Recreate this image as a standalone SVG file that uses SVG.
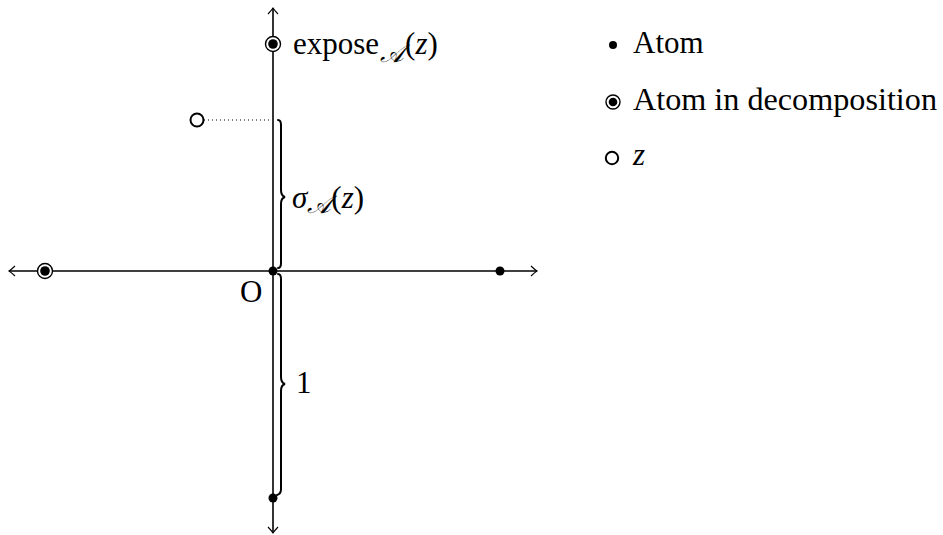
<svg xmlns="http://www.w3.org/2000/svg" width="943" height="535" viewBox="0 0 943 535">
<defs>
<marker id="to" markerUnits="userSpaceOnUse" markerWidth="14" markerHeight="14" viewBox="-8 -7 10 14" refX="0" refY="0" orient="auto">
<path d="M-6,-5 Q-2,-1.2 0,0 Q-2,1.2 -6,5" fill="none" stroke="#000" stroke-width="1.1"/>
</marker>
<style>
.ax{stroke:#000;stroke-width:1.1;fill:none}
.br{stroke:#000;stroke-width:2;fill:none;stroke-linecap:round}
.t{font-family:"Liberation Serif","DejaVu Serif",serif;font-size:31px;fill:#000}
.i{font-style:italic}
.sub{font-size:25px}
.atom{fill:#000}
.ring{fill:#fff;stroke:#000;stroke-width:1.4}
.open{fill:#fff;stroke:#000;stroke-width:2}
</style>
</defs>
<g id="connectors">
<line class="ax" x1="273" y1="533" x2="273" y2="8" marker-end="url(#to)"/>
<line class="ax" x1="273" y1="8" x2="273" y2="533" marker-end="url(#to)"/>
<line class="ax" x1="9" y1="271" x2="537" y2="271" marker-end="url(#to)"/>
<line class="ax" x1="537" y1="271" x2="9" y2="271" marker-end="url(#to)"/>
<line x1="204" y1="120" x2="271" y2="120" stroke="#000" stroke-width="1" stroke-dasharray="1,3"/>
<path class="br" d="M278,120 Q281,120 281,125 L281,190 Q281,196 285,197 Q281,198 281,204 L281,263 Q281,268 278,268"/>
<path class="br" d="M278,274 Q281,274 281,279 L281,377 Q281,383 285,384 Q281,385 281,391 L281,489 Q281,494 277,495"/>
</g>
<g id="origin"><circle class="atom" cx="273" cy="271" r="4.5"/><text class="t" x="240" y="302">O</text></g>
<g id="atom-right"><circle class="atom" cx="500" cy="271" r="4.5"/></g>
<g id="atom-bottom"><circle class="atom" cx="273" cy="498" r="4.5"/></g>
<g id="atom-left"><circle class="ring" cx="45" cy="271" r="7.5"/><circle class="atom" cx="45" cy="271" r="4.8"/></g>
<g id="expose"><circle class="ring" cx="273" cy="44" r="7.5"/><circle class="atom" cx="273" cy="44" r="4.8"/>
<text class="t" x="293" y="54">expose<tspan class="sub i" dx="1" dy="8">𝒜</tspan><tspan dx="1" dy="-8">(</tspan><tspan class="i">z</tspan>)</text></g>
<g id="z-point"><circle class="open" cx="197" cy="120" r="6.5"/></g>
<g id="sigma-label"><text class="t" x="292" y="208"><tspan class="i">σ</tspan><tspan class="sub i" dy="5">𝒜</tspan><tspan dy="-5">(</tspan><tspan class="i">z</tspan>)</text></g>
<g id="one-label"><text class="t" x="296" y="393">1</text></g>
<g id="legend">
<circle class="atom" cx="613" cy="45" r="4"/><text class="t" x="633" y="53">Atom</text>
<circle class="ring" cx="613" cy="102" r="7"/><circle class="atom" cx="613" cy="102" r="4.3"/><text class="t" x="633" y="110" textLength="304" lengthAdjust="spacingAndGlyphs">Atom in decomposition</text>
<circle class="open" cx="612" cy="158" r="6.2"/><text class="t i" x="633" y="165">z</text>
</g>
</svg>
